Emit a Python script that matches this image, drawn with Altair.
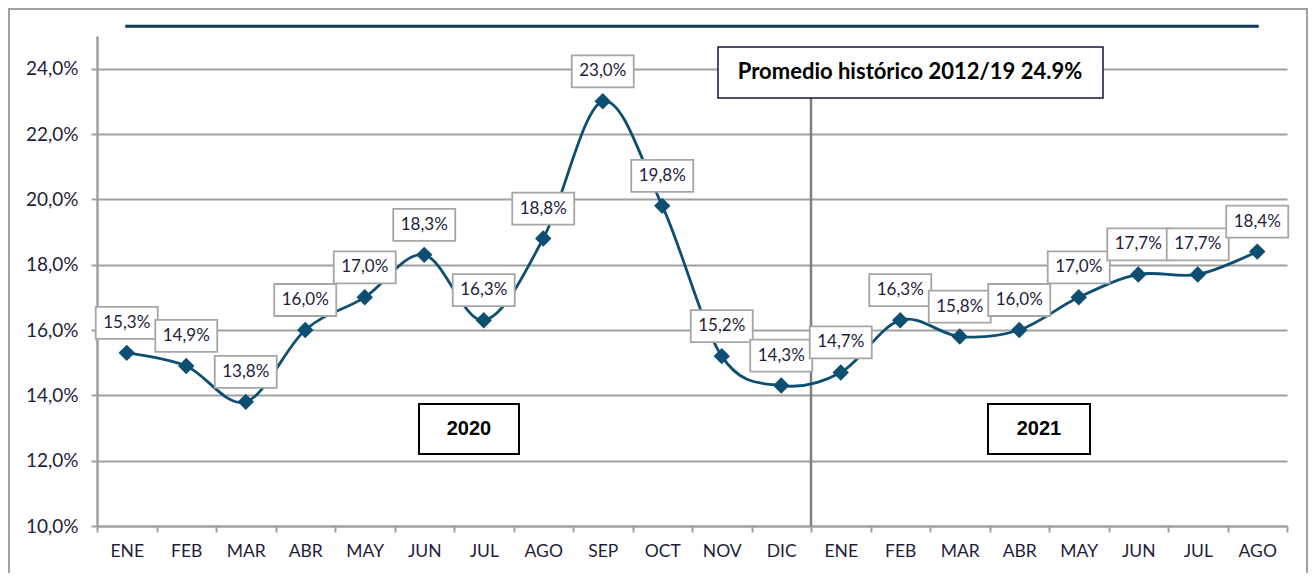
import altair as alt
import pandas as pd

months_2020 = ["ENE", "FEB", "MAR", "ABR", "MAY", "JUN", "JUL", "AGO", "SEP", "OCT", "NOV", "DIC"]
values_2020 = [15.3, 14.9, 13.8, 16.0, 17.0, 18.3, 16.3, 18.8, 23.0, 19.8, 15.2, 14.3]
months_2021 = ["ENE", "FEB", "MAR", "ABR", "MAY", "JUN", "JUL", "AGO"]
values_2021 = [14.7, 16.3, 15.8, 16.0, 17.0, 17.7, 17.7, 18.4]
historic_avg = 24.9
historic_text = "Promedio histórico 2012/19 24.9%"
year_labels = ["2020", "2021"]
y_ticks = [10, 12, 14, 16, 18, 20, 22, 24]

keys = [f"{m} 2020" for m in months_2020] + [f"{m} 2021" for m in months_2021]
values = values_2020 + values_2021
labels = [f"{v:.1f}%".replace(".", ",") for v in values]
df = pd.DataFrame({"key": keys, "value": values, "label": labels})
df_hist = pd.DataFrame({"key": keys, "value": [historic_avg] * len(keys)})
df_sep = pd.DataFrame({"key": ["ENE 2021"]})

W, H = 1190, 490
LINE = "#0d4f72"
GRID = "#a0a0a0"
TXT = "#1e1e3c"
FONT = "Lato"

x_enc = alt.X(
    "key:N", sort=keys, title=None,
    scale=alt.Scale(paddingInner=0, paddingOuter=0),
    axis=alt.Axis(labelAngle=0, tickBand="extent", labelExpr="split(datum.label, ' ')[0]",
                  labelFont=FONT, labelFontSize=17.5, labelColor=TXT, labelPadding=10,
                  tickSize=6, tickWidth=2, tickColor=GRID, domainColor=GRID, domainWidth=2,
                  grid=False),
)
y_enc = alt.Y(
    "value:Q", title=None,
    scale=alt.Scale(domain=[10, 25], nice=False, zero=False),
    axis=alt.Axis(values=y_ticks, labelExpr="replace(format(datum.value, '.1f'), '.', ',') + '%'",
                  labelFont=FONT, labelFontSize=19, labelColor=TXT, labelPadding=13,
                  tickSize=6, tickWidth=2, tickColor=GRID, domainColor=GRID, domainWidth=2.5,
                  grid=True, gridColor=GRID, gridWidth=2),
)

border = alt.Chart(pd.DataFrame({"b": [0]})).mark_rect(
    fill="white", fillOpacity=0, stroke=GRID, strokeWidth=2
).encode(x=alt.value(-88), x2=alt.value(1210), y=alt.value(-27), y2=alt.value(560))

base = alt.Chart(df)

hist_line = alt.Chart(df_hist).mark_line(
    color="#0f3c5c", strokeWidth=3, yOffset=-13, strokeCap="square"
).encode(x=x_enc, y=y_enc)

sep = alt.Chart(df_sep).mark_rule(color="#808080", strokeWidth=2.5).encode(
    x=alt.X("key:N", sort=keys, bandPosition=0, title=None),
    y=alt.datum(24), y2=alt.datum(10),
)

line = base.mark_line(color=LINE, strokeWidth=2.8, interpolate="cardinal", tension=0).encode(x=x_enc, y=y_enc)
pts = base.mark_point(shape="diamond", filled=True, size=270, color=LINE, opacity=1).encode(x=x_enc, y=y_enc)

box_path = "M-1,-0.516 H1 V0.516 H-1 Z"
lbl_box = base.mark_point(
    shape=box_path, size=62 * 62, filled=False, fill="white", fillOpacity=1,
    stroke="#a6a6a6", strokeWidth=1.8, yOffset=-30, opacity=1
).encode(x=x_enc, y=y_enc)
lbl_txt = base.mark_text(
    font=FONT, fontSize=17, color=TXT, yOffset=-30, baseline="middle", align="center"
).encode(x=x_enc, y=y_enc, text="label:N")

ann_df = pd.DataFrame({"text": [historic_text]})
ann_box = alt.Chart(ann_df).mark_rect(fill="white", stroke="#14143a", strokeWidth=1.5).encode(
    x=alt.value(621), x2=alt.value(1006), y=alt.value(11), y2=alt.value(62))
ann_txt = alt.Chart(ann_df).mark_text(font=FONT, fontSize=22, fontWeight="bold", color="black",
                                      baseline="middle", align="center").encode(
    x=alt.value(813), y=alt.value(36), text="text:N")

y20 = pd.DataFrame({"text": [year_labels[0]]})
y21 = pd.DataFrame({"text": [year_labels[1]]})
box20 = alt.Chart(y20).mark_rect(fill="white", stroke="black", strokeWidth=2).encode(
    x=alt.value(322), x2=alt.value(422), y=alt.value(368), y2=alt.value(418))
txt20 = alt.Chart(y20).mark_text(font="Liberation Sans", fontSize=20, fontWeight="bold", color="black",
                                 baseline="middle", align="center").encode(
    x=alt.value(372), y=alt.value(393), text="text:N")
box21 = alt.Chart(y21).mark_rect(fill="white", stroke="black", strokeWidth=2).encode(
    x=alt.value(891), x2=alt.value(993), y=alt.value(368), y2=alt.value(418))
txt21 = alt.Chart(y21).mark_text(font="Liberation Sans", fontSize=20, fontWeight="bold", color="black",
                                 baseline="middle", align="center").encode(
    x=alt.value(942), y=alt.value(393), text="text:N")

chart = alt.layer(
    border, hist_line, sep, line, pts, lbl_box, lbl_txt,
    ann_box, ann_txt, box20, txt20, box21, txt21,
).properties(
    width=W, height=H,
    padding={"left": 89, "top": 28, "right": 21, "bottom": 47},
    autosize=alt.AutoSizeParams(type="none"),
    background="white",
).configure_view(stroke=None)

chart.save("out.html", embed_options={"renderer": "svg", "actions": False})
